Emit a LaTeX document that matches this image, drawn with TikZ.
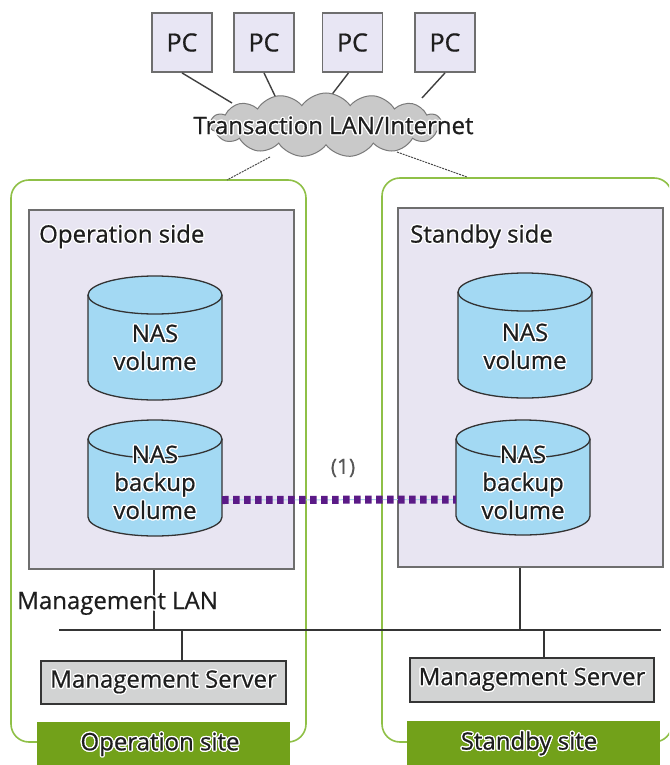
\documentclass[tikz,border=0pt]{standalone}
\usepackage{fontspec}
\setmainfont{Open Sans}[FakeBold=0.6]
\usepackage[copies]{contour}
\contourlength{1.3pt}
\contournumber{12}
\usetikzlibrary{shapes.symbols}
\definecolor{pcfill}{HTML}{E8E6F4}
\definecolor{boxline}{HTML}{6E6E6E}
\definecolor{sidefill}{HTML}{E8E5F2}
\definecolor{cylfill}{HTML}{A3D9F3}
\definecolor{cylline}{HTML}{333333}
\definecolor{cloudfill}{HTML}{C9C9C9}
\definecolor{cloudline}{HTML}{7A7A7A}
\definecolor{siteline}{HTML}{8FC047}
\definecolor{sitefill}{HTML}{72A11A}
\definecolor{msfill}{HTML}{D2D3D3}
\definecolor{txt}{HTML}{1E1E1E}
\definecolor{dotpurple}{HTML}{5B1A87}
\definecolor{linkblue}{HTML}{A8CFEA}
\newcommand\halo[1]{\contour{white}{#1}}
\tikzset{
  every node/.style={text=txt, font=\fontsize{24}{29}\selectfont},
  pcbox/.style={draw=boxline, fill=pcfill, line width=1.8, minimum width=60, minimum height=59, inner sep=0, font=\fontsize{25}{29}\selectfont},
  netcloud/.style={cloud, cloud puffs=15, cloud puff arc=110, draw=cloudline, fill=cloudfill, line width=1, minimum width=232, minimum height=64, inner sep=0},
  link/.style={draw=txt!85, line width=1.4},
  dashlink/.style={draw=txt!80, line width=1, dash pattern=on 2pt off 1pt},
  siteframe/.style={draw=siteline, line width=1.6, rounded corners=18, minimum width=295, minimum height=562, inner sep=0},
  sitelabel/.style={fill=sitefill, minimum width=253, minimum height=48, inner sep=0},
  sidebox/.style={draw=boxline, fill=sidefill, line width=2, minimum width=265, minimum height=359, inner sep=0},
  cylbody/.style={fill=cylfill, draw=cylline, line width=1.3},
  cylfront/.style={draw=cylline, line width=1.3},
  cyltext/.style={align=center, inner sep=0, font=\fontsize{24}{28}\selectfont},
  msbox/.style={draw=txt!90, fill=msfill, line width=1.6, inner sep=0},
  lanline/.style={draw=txt!90, line width=1.4},
  backuplink/.style={draw=dotpurple, line width=8, dash pattern=on 6.5pt off 4.5pt},
}
\newcommand\nascyl[6]{%
  \path[cylbody] (#2-67,-#3-19) -- (#2-67,-#4+19)
    arc[start angle=180,end angle=360,x radius=67,y radius=19]
    -- (#2+67,-#3-19)
    arc[start angle=0,end angle=180,x radius=67,y radius=19] -- cycle;
  \draw[cylfront] (#2-67,-#3-19) arc[start angle=180,end angle=360,x radius=67,y radius=19];
  \node[minimum width=134, minimum height=#4-#3, inner sep=0] (#1) at (#2,{-(#3+#4)/2}) {};
  \node[cyltext] (#1-t) at (#2,-#5) {#6};
}
\begin{document}
\begin{tikzpicture}[x=1pt,y=1pt]
\useasboundingbox (0,0) rectangle (669,-765);
\clip (0,0) rectangle (669,-765);
\fill[white] (0,0) rectangle (669,-765);

% sites
\node[siteframe] (opsite) at (158.5,-461) {};
\node[siteframe, minimum width=290, minimum height=564] (stsite) at (527,-460) {};
\node[sitelabel] (oplabel) at (163.5,-746) {};
\node (optext) at (160,-745) {\halo{Operation site}};
\node[sitelabel] (stlabel) at (533.5,-745) {};
\node (sttext) at (529,-744) {\halo{Standby site}};

% PCs
\node[pcbox] (pc1) at (182,-42.5) {PC};
\node[pcbox] (pc2) at (264,-42.5) {PC};
\node[pcbox] (pc3) at (352.5,-42.5) {PC};
\node[pcbox] (pc4) at (445,-42.5) {PC};
\coordinate (c1) at (232,-103);
\coordinate (c2) at (276,-98);
\coordinate (c3) at (330,-97);
\coordinate (c4) at (422,-98);
\draw[link] (pc1.south) -- (c1);
\draw[link] (pc2.south) -- (c2);
\draw[link] ([xshift=-4pt]pc3.south) -- (c3);
\draw[link] (pc4.south) -- (c4);
\coordinate (d1a) at (270,-157);
\coordinate (d1b) at (227,-180);
\coordinate (d2a) at (397,-152);
\coordinate (d2b) at (467,-177);
\draw[dashlink] (d1a) -- (d1b);
\draw[dashlink] (d2a) -- (d2b);
\node[netcloud] (cloud) at (326,-125) {};
\node (lan) at (333.5,-126) {\halo{Transaction LAN/Internet}};

% side boxes
\node[sidebox] (opside) at (161.5,-389.5) {};
\node[sidebox] (stside) at (530.5,-387.5) {};
\node[anchor=west, inner sep=0] (oplbl) at (39,-237) {\halo{Operation side}};
\node[anchor=west, inner sep=0] (stlbl) at (410,-237) {\halo{Standby side}};

% volumes
\nascyl{nas1}{155}{276}{400}{348}{\halo{NAS}\\\halo{volume}}
\nascyl{nas2}{525}{273}{398}{347}{\halo{NAS}\\\halo{volume}}
\nascyl{bk1}{155}{420}{536}{483}{\halo{NAS}\\\halo{backup}\\\halo{volume}}
\nascyl{bk2}{523}{420}{535}{483}{\halo{NAS}\\\halo{backup}\\\halo{volume}}

% backup link
\draw[linkblue, line width=1] ([yshift=-22pt]bk1.east) -- ([yshift=-22pt]bk2.west);
\draw[backuplink] ([yshift=-22pt]bk1.east) -- ([yshift=-22pt]bk2.west);
\node[text=txt!75, font=\fontsize{21}{25}\selectfont] (one) at (343,-468) {(1)};

% management LAN
\coordinate (lanL) at (59,-630);
\coordinate (lanR) at (661,-630);
\draw[lanline] ([xshift=-7.5pt]opside.south) -- ([xshift=-7.5pt]opside.south |- lanL);
\draw[lanline] ([xshift=-10.5pt]stside.south) -- ([xshift=-10.5pt]stside.south |- lanL);
\node[anchor=west, inner sep=0] (mlan) at (17,-604) {\halo{Management LAN}};
\draw[lanline] (lanL) -- (lanR);
\node[msbox, minimum width=245, minimum height=43] (ms1) at (163.5,-682.5) {\halo{Management Server}};
\node[msbox, minimum width=244, minimum height=44] (ms2) at (532,-680) {\halo{Management Server}};
\draw[lanline] ([xshift=18.5pt]ms1.north) -- ([xshift=18.5pt]ms1.north |- lanL);
\draw[lanline] ([xshift=12pt]ms2.north) -- ([xshift=12pt]ms2.north |- lanL);
\end{tikzpicture}
\end{document}
